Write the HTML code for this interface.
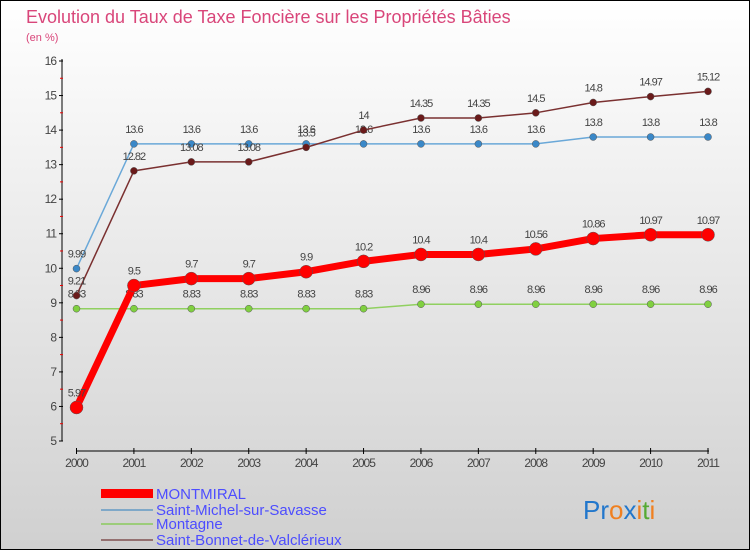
<!DOCTYPE html>
<html><head><meta charset="utf-8">
<style>
body{margin:0}
#c{width:750px;height:550px;position:relative;box-sizing:border-box;border:1px solid #000;background:linear-gradient(#ffffff,#d0d0d0);font-family:"Liberation Sans",sans-serif;overflow:hidden}
</style></head><body>
<div id="c">
<svg id="s" width="748" height="548" style="position:absolute;left:0;top:0">
<text x="25" y="22" font-size="18" fill="#d9467a">Evolution du Taux de Taxe Foncière sur les Propriétés Bâties</text>
<text x="25" y="40" font-size="11" fill="#d9467a">(en %)</text>
<g id="axes"></g><g id="series"></g>
<g>
<rect x="100" y="488" width="52" height="9" fill="#f00"/>
<text x="155" y="498" font-size="15" fill="#4d4dff">MONTMIRAL</text>
<rect x="100" y="508" width="52" height="2" fill="#7fa8c8"/>
<text x="155" y="514" font-size="15" fill="#4d4dff">Saint-Michel-sur-Savasse</text>
<rect x="100" y="522" width="52" height="2" fill="#9ccc7a"/>
<text x="155" y="528" font-size="15" fill="#4d4dff">Montagne</text>
<rect x="100" y="538" width="52" height="2" fill="#947070"/>
<text x="155" y="544" font-size="15" fill="#4d4dff">Saint-Bonnet-de-Valclérieux</text>
</g>
<text x="582" y="518" font-size="26"><tspan fill="#2277cc">Pr</tspan><tspan fill="#f08020">o</tspan><tspan fill="#2277cc">x</tspan><tspan fill="#f08020">i</tspan><tspan fill="#55aa33">t</tspan><tspan fill="#f08020">i</tspan></text>
</svg>
</div>
<script>
const years=[2000,2001,2002,2003,2004,2005,2006,2007,2008,2009,2010,2011];
const montmiral=[5.97,9.5,9.7,9.7,9.9,10.2,10.4,10.4,10.56,10.86,10.97,10.97];
const saintMichel=[9.99,13.6,13.6,13.6,13.6,13.6,13.6,13.6,13.6,13.8,13.8,13.8];
const montagne=[8.83,8.83,8.83,8.83,8.83,8.83,8.96,8.96,8.96,8.96,8.96,8.96];
const saintBonnet=[9.21,12.82,13.08,13.08,13.5,14,14.35,14.35,14.5,14.8,14.97,15.12];
const yTicks=[5,6,7,8,9,10,11,12,13,14,15,16];
const NS="http://www.w3.org/2000/svg";
const xS=i=>75.5+i*(707-75.5)/11;
const yS=v=>440-(v-5)*(380/11);
function mk(t,a,p){const e=document.createElementNS(NS,t);for(const k in a)e.setAttribute(k,a[k]);p.appendChild(e);return e;}
const ax=document.getElementById('axes');
let l=mk('line',{x1:61,y1:58,x2:61,y2:440,stroke:'#000','stroke-width':1},ax);


l=mk('line',{x1:75,y1:450,x2:708,y2:450,stroke:'#000','stroke-width':1},ax);


yTicks.forEach(v=>{
 const y=yS(v);
 mk('line',{x1:58,y1:y,x2:62,y2:y,stroke:'#000'},ax);
 if(v<16) mk('line',{x1:59,y1:y-17.3,x2:62,y2:y-17.3,stroke:'#e00'},ax);
 const t=mk('text',{x:55,y:y+4,'font-size':12,fill:'#444','text-anchor':'end','letter-spacing':'-1'},ax);
 t.textContent=v;
 
 
});
years.forEach((yr,i)=>{
 const x=xS(i);
 mk('line',{x1:x,y1:447,x2:x,y2:453,stroke:'#000'},ax);
 const t=mk('text',{x:x,y:466,'font-size':12,fill:'#444','text-anchor':'middle','letter-spacing':'-1'},ax);
 t.textContent=yr;
 
 
});
const sg=document.getElementById('series');
function series(vals,name,color,w,r,fill){
 const g=mk('g',{},sg);
 
 
 const p=mk('polyline',{points:vals.map((v,i)=>xS(i)+','+yS(v)).join(' '),fill:'none',stroke:color,'stroke-width':w,'stroke-linejoin':'round'},g);
 
 
 vals.forEach((v,i)=>{
  const c=mk('circle',{cx:xS(i),cy:yS(v),r:r,fill:fill,stroke:'#555','stroke-width':0.5},g);
  
  
  const t=mk('text',{x:xS(i),y:yS(v)-11,'font-size':11,fill:'#444','text-anchor':'middle','letter-spacing':'-1'},g);
  t.textContent=v;
  
  
 });
}
series(montagne,'montagne','#90d060',1.5,3.5,'#80d040');
series(saintMichel,'saint-michel','#6aa8d8',1.5,3.5,'#3a88c8');
series(saintBonnet,'saint-bonnet','#7a3030',1.5,3.5,'#6a1a1a');
series(montmiral,'montmiral','#ff0000',7,6.5,'#ff0000');
</script>
</body></html>
